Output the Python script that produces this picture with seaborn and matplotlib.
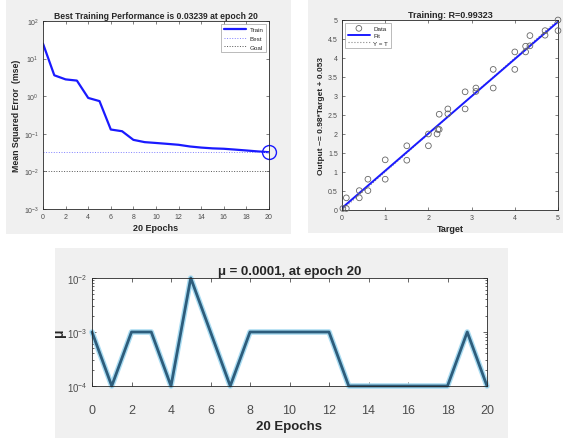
import numpy as np
import pandas as pd
import matplotlib
matplotlib.use("Agg")
import matplotlib.pyplot as plt
import seaborn as sns
from matplotlib.patches import Rectangle
from matplotlib.ticker import LogLocator, NullFormatter

# performance (mse) per epoch
epochs = list(range(21))
train_mse = [25, 3.6, 2.8, 2.6, 0.9, 0.74, 0.13, 0.117, 0.069, 0.060, 0.057,
             0.054, 0.051, 0.046, 0.043, 0.041, 0.040, 0.038, 0.036, 0.034, 0.03239]
best_mse = 0.03239
goal_mse = 0.01

# regression: target vs output
target = [0.02, 0.1, 0.1, 0.4, 0.4, 0.6, 0.6, 1.0, 1.0, 1.5, 1.5, 2.0, 2.0, 2.2, 2.22,
          2.25, 2.25, 2.45, 2.45, 2.85, 2.85, 3.1, 3.1, 3.5, 3.5, 4.0, 4.0, 4.25, 4.25,
          4.35, 4.35, 4.7, 4.7, 5.0, 5.0]
output = [0.04, 0.04, 0.32, 0.51, 0.32, 0.81, 0.51, 1.32, 0.81, 1.69, 1.31, 2.0, 1.69, 2.0, 2.12,
          2.12, 2.52, 2.66, 2.53, 3.11, 2.66, 3.21, 3.12, 3.7, 3.21, 4.16, 3.7, 4.31, 4.16,
          4.59, 4.32, 4.72, 4.6, 5.0, 4.72]
fit_slope = 0.98
fit_icept = 0.053

# mu per epoch
mu = [1e-3, 1e-4, 1e-3, 1e-3, 1e-4, 1e-2, 1e-3, 1e-4, 1e-3, 1e-3, 1e-3,
      1e-3, 1e-3, 1e-4, 1e-4, 1e-4, 1e-4, 1e-4, 1e-4, 1e-3, 1e-4]

sns.set_style("white")
plt.rcParams['font.family'] = ['Liberation Sans', 'DejaVu Sans']
plt.rcParams['xtick.direction'] = 'in'
plt.rcParams['ytick.direction'] = 'in'
plt.rcParams['axes.edgecolor'] = '#262626'
plt.rcParams['axes.linewidth'] = 0.6

W, H = 563, 439
fig = plt.figure(figsize=(W / 100, H / 100), dpi=100)
fig.patch.set_facecolor('white')

def px_rect(x0, y0, x1, y1):
    return [x0 / W, (H - y1) / H, (x1 - x0) / W, (y1 - y0) / H]

panel_col = '#f0f0f0'
for (x0, y0, x1, y1) in [(6, 0, 291, 235), (308, 0, 563, 234), (55, 249, 508, 439)]:
    fig.patches.append(Rectangle((x0 / W, (H - y1) / H), (x1 - x0) / W, (y1 - y0) / H,
                                 transform=fig.transFigure, facecolor=panel_col,
                                 edgecolor='none', zorder=-10))

tick_col = '#4d4d4d'

# ---- top-left: performance ----
ax1 = fig.add_axes(px_rect(43, 22, 269, 210))
perf = pd.DataFrame({'epoch': epochs, 'mse': train_mse})
sns.lineplot(data=perf, x='epoch', y='mse', ax=ax1, color='#1a1aff', lw=1.6, label='Train')
ax1.axhline(best_mse, color='#8080ff', ls=':', lw=0.7, label='Best')
ax1.axhline(goal_mse, color='#555555', ls=':', lw=0.7, label='Goal')
ax1.axvline(20, color='#8080ff', ls=':', lw=0.7)
ax1.plot([20], [best_mse], 'o', mfc='none', mec='#1a1aff', ms=10, mew=1.0, clip_on=False)
ax1.set_yscale('log')
ax1.set_xlim(0, 20)
ax1.set_ylim(1e-3, 1e2)
ax1.set_xticks(range(0, 21, 2))
ax1.minorticks_off()
ax1.tick_params(labelsize=5, colors=tick_col, length=2, width=0.5, pad=3,
                bottom=True, left=True, top=True, right=True)
ax1.set_title('Best Training Performance is 0.03239 at epoch 20', fontsize=6.2,
              fontweight='bold', pad=2)
ax1.set_xlabel('20 Epochs', fontsize=6.5, fontweight='bold', labelpad=2)
ax1.set_ylabel('Mean Squared Error  (mse)', fontsize=6.3, fontweight='bold', labelpad=2)
leg = ax1.legend(loc='upper right', fontsize=4.5, frameon=True, fancybox=False,
                 handlelength=3.6, borderpad=0.4, labelspacing=0.55, handletextpad=0.5)
leg.get_frame().set_edgecolor('#888888')
leg.get_frame().set_linewidth(0.5)

# ---- top-right: regression ----
ax2 = fig.add_axes(px_rect(342, 21, 558, 211))
reg = pd.DataFrame({'target': target, 'output': output})
line_x = np.array([0.0, 5.0])
sns.lineplot(x=line_x, y=line_x, ax=ax2, color='#888888', ls=':', lw=0.8, label='Y = T')
sns.lineplot(x=line_x, y=fit_slope * line_x + fit_icept, ax=ax2, color='#1a1aff', lw=1.4, label='Fit')
sns.scatterplot(data=reg, x='target', y='output', ax=ax2, marker='o', s=17,
                facecolor='none', edgecolor='#666666', linewidth=0.6, label='Data', zorder=5,
                clip_on=False)
ax2.set_xlim(0, 5)
ax2.set_ylim(0, 5)
ax2.set_xticks(range(0, 6))
ax2.set_yticks(np.arange(0, 5.01, 0.5))
ax2.set_yticklabels(['0', '0.5', '1', '1.5', '2', '2.5', '3', '3.5', '4', '4.5', '5'])
ax2.tick_params(labelsize=5, colors=tick_col, length=2, width=0.5, pad=3,
                bottom=True, left=True, top=True, right=True)
ax2.set_title('Training: R=0.99323', fontsize=6.5, fontweight='bold', pad=2)
ax2.set_xlabel('Target', fontsize=6.5, fontweight='bold', labelpad=2)
ax2.set_ylabel('Output ~= 0.98*Target + 0.053', fontsize=6, fontweight='bold', labelpad=2)
h, l = ax2.get_legend_handles_labels()
order = [l.index('Data'), l.index('Fit'), l.index('Y = T')]
leg2 = ax2.legend([h[i] for i in order], [l[i] for i in order], loc='upper left',
                  fontsize=4.5, frameon=True, fancybox=False, handlelength=3.6,
                  borderpad=0.4, labelspacing=0.3, handletextpad=0.5)
leg2.get_frame().set_edgecolor('#888888')
leg2.get_frame().set_linewidth(0.5)

# ---- bottom: mu ----
ax3 = fig.add_axes(px_rect(92, 279, 487, 387))
mu_df = pd.DataFrame({'epoch': epochs, 'mu': mu})
sns.lineplot(data=mu_df, x='epoch', y='mu', ax=ax3, color='#a9dcf2', lw=4.0, clip_on=False)
sns.lineplot(data=mu_df, x='epoch', y='mu', ax=ax3, color='#2d5d7c', lw=2.0, clip_on=False)
ax3.set_yscale('log')
ax3.set_xlim(0, 20)
ax3.set_ylim(1e-4, 1e-2)
ax3.set_xticks(range(0, 21, 2))
ax3.yaxis.set_minor_locator(LogLocator(base=10, subs=np.arange(2, 10)))
ax3.yaxis.set_minor_formatter(NullFormatter())
ax3.tick_params(axis='both', which='both', bottom=True, left=True, top=True, right=True)
ax3.tick_params(axis='x', which='major', labelsize=9, colors=tick_col, length=3, width=0.6, pad=13)
ax3.tick_params(axis='y', which='major', labelsize=7, colors=tick_col, length=3, width=0.6, pad=3)
ax3.tick_params(axis='y', which='minor', length=1.5, width=0.5)
ax3.set_title('μ = 0.0001, at epoch 20', fontsize=9.5, fontweight='bold', pad=3)
ax3.set_xlabel('20 Epochs', fontsize=9.5, fontweight='bold', labelpad=3)
ax3.set_ylabel('μ', fontsize=10, fontweight='bold', labelpad=1)

for ax in (ax1, ax2, ax3):
    for s in ax.spines.values():
        s.set_visible(True)

fig.savefig('out.png', dpi=100)
